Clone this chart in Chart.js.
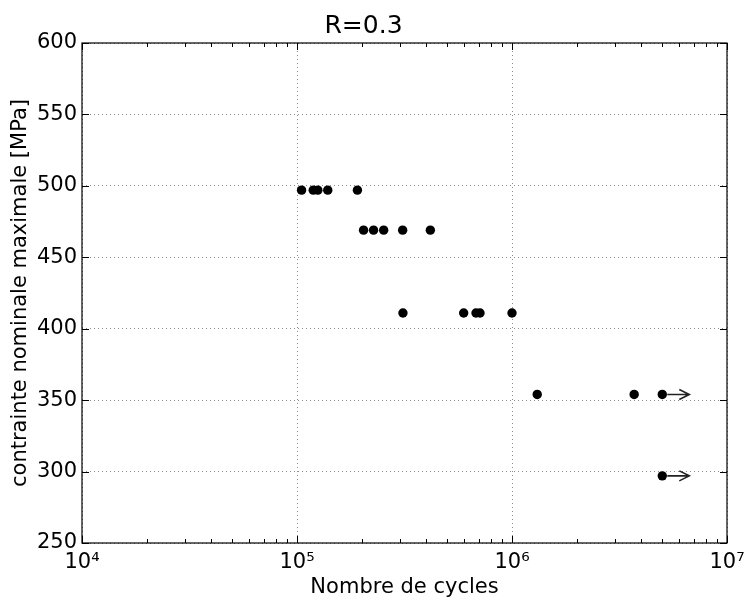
<!DOCTYPE html>
<html>
<head>
<meta charset="utf-8">
<script src="https://cdn.jsdelivr.net/npm/chart.js@4/dist/chart.umd.min.js"></script>
<style>
  html, body { margin: 0; padding: 0; background: #fff; }
  #wrap { width: 745px; height: 598px; position: relative; }
</style>
</head>
<body>
<div id="wrap"><canvas id="chart-sn"></canvas></div>
<script>
// essais de fatigue, R=0.3
const cycles = [
  1.05e5, 1.19e5, 1.25e5, 1.39e5, 1.91e5,
  2.04e5, 2.27e5, 2.53e5, 3.10e5, 4.17e5,
  3.11e5, 5.96e5, 6.80e5, 7.10e5, 1.00e6,
  1.31e6, 3.70e6, 5.00e6,
  5.00e6
];
const stressMPa = [
  497, 497, 497, 497, 497,
  469, 469, 469, 469, 469,
  411, 411, 411, 411, 411,
  354, 354, 354,
  297
];
// essais non rompus (fleche)
const runout = [
  false, false, false, false, false,
  false, false, false, false, false,
  false, false, false, false, false,
  false, false, true,
  true
];

const xDecades = [4, 5, 6, 7];
const yTickLabels = [250, 300, 350, 400, 450, 500, 550, 600];

const titre = "R=0.3";
const labelX = "Nombre de cycles";
const labelY = "contrainte nominale maximale [MPa]";

const sup = { 4: "\u2074", 5: "\u2075", 6: "\u2076", 7: "\u2077" };
const FONT = "'DejaVu Sans', sans-serif";

function isDecade(v) {
  const e = Math.log10(v);
  return Math.abs(e - Math.round(e)) < 1e-9;
}

// cadre, graduations interieures et fleches
const cadrePlugin = {
  id: "cadre",
  afterDatasetsDraw(chart) {
    const { ctx, chartArea: a, scales } = chart;
    const xs = scales.x, ys = scales.y;
    ctx.save();
    ctx.strokeStyle = "#000";
    ctx.lineWidth = 1;

    xs.ticks.forEach(t => {
      const px = Math.round(xs.getPixelForValue(t.value)) + 0.5;
      const len = isDecade(t.value) ? 7 : 4;
      ctx.beginPath();
      ctx.moveTo(px, a.bottom); ctx.lineTo(px, a.bottom - len);
      ctx.moveTo(px, a.top); ctx.lineTo(px, a.top + len);
      ctx.stroke();
    });
    ys.ticks.forEach(t => {
      const py = Math.round(ys.getPixelForValue(t.value)) + 0.5;
      ctx.beginPath();
      ctx.moveTo(a.left, py); ctx.lineTo(a.left + 7, py);
      ctx.moveTo(a.right, py); ctx.lineTo(a.right - 7, py);
      ctx.stroke();
    });

    ctx.lineWidth = 1.2;
    ctx.strokeRect(a.left, a.top, a.right - a.left, a.bottom - a.top);

    // fleches pour les essais arretes
    const meta = chart.getDatasetMeta(0);
    ctx.strokeStyle = "#222";
    ctx.lineWidth = 1.6;
    meta.data.forEach((pt, i) => {
      if (!runout[i]) return;
      const x0 = pt.x + 5, x1 = pt.x + 27, y = pt.y;
      ctx.beginPath();
      ctx.moveTo(x0, y); ctx.lineTo(x1, y);
      ctx.moveTo(x1 - 10, y - 5); ctx.lineTo(x1, y); ctx.lineTo(x1 - 10, y + 5);
      ctx.stroke();
    });
    ctx.restore();
  }
};

const ctx = document.getElementById("chart-sn");
new Chart(ctx, {
  type: "scatter",
  data: {
    datasets: [{
      data: cycles.map((c, i) => ({ x: c, y: stressMPa[i] })),
      backgroundColor: "#000",
      borderWidth: 0,
      pointRadius: 4.7,
      pointHoverRadius: 4.7
    }]
  },
  options: {
    responsive: true,
    maintainAspectRatio: false,
    animation: false,
    layout: { padding: { left: 0, right: 18, top: 0, bottom: 0 } },
    plugins: {
      legend: { display: false },
      tooltip: { enabled: false },
      title: {
        display: true,
        text: titre,
        color: "#000",
        font: { family: FONT, size: 25, weight: "normal", lineHeight: 1.2 },
        padding: { top: 11, bottom: 2 }
      }
    },
    scales: {
      x: {
        type: "logarithmic",
        min: Math.pow(10, xDecades[0]),
        max: Math.pow(10, xDecades[xDecades.length - 1]),
        afterBuildTicks(scale) {
          const ticks = [];
          for (let d = 0; d < xDecades.length - 1; d++) {
            for (let k = 1; k <= 9; k++) ticks.push({ value: k * Math.pow(10, xDecades[d]) });
          }
          ticks.push({ value: Math.pow(10, xDecades[xDecades.length - 1]) });
          scale.ticks = ticks;
        },
        afterFit(scale) {
          scale.height = 55;
          scale.paddingLeft = 0;
          scale.paddingRight = 0;
        },
        ticks: {
          autoSkip: false,
          maxRotation: 0,
          padding: 7,
          color: "#000",
          font: { family: FONT, size: 21 },
          callback: (v) => isDecade(v) ? "10" + sup[Math.round(Math.log10(v))] : ""
        },
        grid: {
          drawTicks: false,
          lineWidth: 1,
          color: (c) => (c.tick && isDecade(c.tick.value)) ? "#8c8c8c" : "rgba(0,0,0,0)"
        },
        border: { display: false, dash: [1, 3] },
        title: {
          display: true,
          text: labelX,
          color: "#000",
          font: { family: FONT, size: 21, lineHeight: 1 },
          padding: 0
        }
      },
      y: {
        min: yTickLabels[0],
        max: yTickLabels[yTickLabels.length - 1],
        afterBuildTicks(scale) {
          scale.ticks = yTickLabels.map(v => ({ value: v }));
        },
        afterFit(scale) {
          scale.width = 82;
          scale.paddingTop = 0;
          scale.paddingBottom = 0;
        },
        ticks: {
          padding: 5,
          color: "#000",
          font: { family: FONT, size: 21 }
        },
        grid: {
          drawTicks: false,
          lineWidth: 1,
          color: "#8c8c8c"
        },
        border: { display: false, dash: [1, 3] },
        title: {
          display: true,
          text: labelY,
          color: "#000",
          font: { family: FONT, size: 21, lineHeight: 1.2 },
          padding: { top: 8, bottom: 0 }
        }
      }
    }
  },
  plugins: [cadrePlugin]
});
</script>
</body>
</html>
